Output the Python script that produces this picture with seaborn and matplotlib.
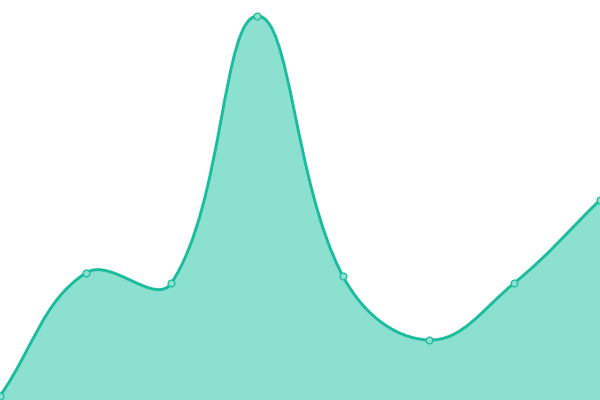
import numpy as np
import pandas as pd
import matplotlib
matplotlib.use("Agg")
import matplotlib.pyplot as plt
from matplotlib.path import Path
from matplotlib.patches import PathPatch
import seaborn as sns

sns.set_theme(style="white")

# dati
labels = ["A", "B", "C", "D", "E", "F", "G", "H"]
values = [4, 127, 117, 384, 124, 60, 117, 200]

line_color = "#1abc9c"
fill_color = "#8be0cf"

df = pd.DataFrame({"x": np.arange(len(values)), "y": values})

fig = plt.figure(figsize=(6, 4), dpi=100)
ax = fig.add_axes([0, 0, 1, 1])
ax.set_xlim(0, len(values) - 1)
ax.set_ylim(0, 400)
ax.axis("off")

# curva smussata (stile spline con tensione) calcolata in coordinate schermo
pts = ax.transData.transform(df[["x", "y"]].to_numpy(dtype=float))
tension = 0.4
verts = [pts[0]]
codes = [Path.MOVETO]
n = len(pts)
ctrl_prev, ctrl_next = [], []
for i in range(n):
    p0 = pts[max(i - 1, 0)]
    p1 = pts[i]
    p2 = pts[min(i + 1, n - 1)]
    d01 = np.hypot(*(p1 - p0))
    d12 = np.hypot(*(p2 - p1))
    tot = d01 + d12 if d01 + d12 > 0 else 1
    fa = tension * d01 / tot
    fb = tension * d12 / tot
    ctrl_prev.append(p1 - fa * (p2 - p0))
    ctrl_next.append(p1 + fb * (p2 - p0))
for i in range(1, n):
    verts += [ctrl_next[i - 1], ctrl_prev[i], pts[i]]
    codes += [Path.CURVE4] * 3
inv = ax.transData.inverted()
verts_data = inv.transform(np.array(verts))

curve = Path(verts_data, codes)
area_verts = np.vstack([verts_data, [[n - 1, 0], [0, 0], verts_data[0]]])
area_codes = codes + [Path.LINETO, Path.LINETO, Path.CLOSEPOLY]
ax.add_patch(PathPatch(Path(area_verts, area_codes), facecolor=fill_color,
                       edgecolor="none", zorder=1))
ax.add_patch(PathPatch(curve, facecolor="none", edgecolor=line_color,
                       linewidth=2.1, zorder=2))

sns.scatterplot(data=df, x="x", y="y", ax=ax, s=24, color=fill_color,
                edgecolor=line_color, linewidth=0.9, zorder=3, legend=False)
ax.set_xlim(0, len(values) - 1)
ax.set_ylim(0, 400)
ax.axis("off")

fig.savefig("out.png", dpi=100)
